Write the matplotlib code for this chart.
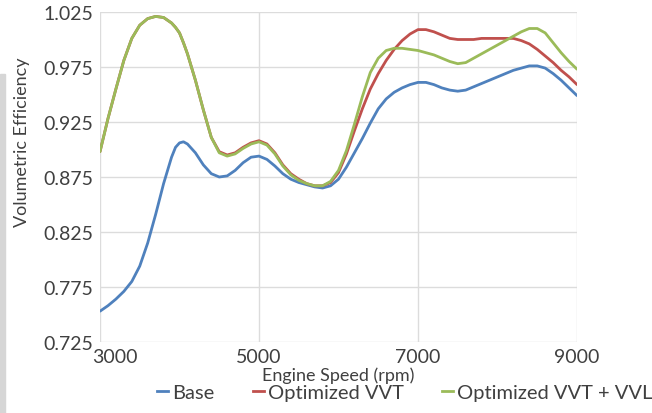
# plot.py
# Volumetric efficiency vs engine speed for three valve strategies.

import matplotlib.pyplot as plt
import matplotlib.transforms as mtransforms
from matplotlib.lines import Line2D
from matplotlib.patches import Rectangle

plt.rcParams["font.family"] = ["Lato", "DejaVu Sans"]

# engine speed (rpm)
rpm = [
    3000, 3100, 3200, 3300, 3400, 3500, 3600, 3700, 3800, 3900, 3950,
    4000, 4050, 4100, 4200, 4300, 4400, 4500, 4600, 4700, 4800, 4900,
    5000, 5100, 5200, 5300, 5400, 5500, 5600, 5700, 5800, 5900,
    6000, 6100, 6200, 6300, 6400, 6500, 6600, 6700, 6800, 6900,
    7000, 7100, 7200, 7300, 7400, 7500, 7600, 7700, 7800, 7900,
    8000, 8100, 8200, 8300, 8400, 8500, 8600, 8700, 8800, 8900,
    9000,
]

base = [
    0.753, 0.758, 0.764, 0.771, 0.780, 0.794, 0.815, 0.841, 0.869, 0.893, 0.902,
    0.906, 0.907, 0.905, 0.897, 0.886, 0.878, 0.875, 0.876, 0.881, 0.888, 0.893,
    0.894, 0.891, 0.885, 0.878, 0.873, 0.870, 0.868, 0.866, 0.865, 0.867,
    0.873, 0.884, 0.897, 0.910, 0.924, 0.937, 0.946, 0.952, 0.956, 0.959,
    0.961, 0.961, 0.959, 0.956, 0.954, 0.953, 0.954, 0.957, 0.960, 0.963,
    0.966, 0.969, 0.972, 0.974, 0.976, 0.976, 0.974, 0.969, 0.963, 0.956,
    0.949,
]

opt_vvt = [
    0.898, 0.928, 0.955, 0.981, 1.001, 1.013, 1.019, 1.021, 1.020, 1.015, 1.011,
    1.006, 0.997, 0.987, 0.963, 0.936, 0.911, 0.898, 0.895, 0.897, 0.902, 0.906,
    0.908, 0.905, 0.897, 0.886, 0.878, 0.873, 0.869, 0.867, 0.867, 0.870,
    0.879, 0.896, 0.917, 0.937, 0.955, 0.969, 0.981, 0.991, 0.999, 1.005,
    1.009, 1.009, 1.007, 1.004, 1.001, 1.000, 1.000, 1.000, 1.001, 1.001,
    1.001, 1.001, 1.001, 0.999, 0.996, 0.991, 0.985, 0.979, 0.972, 0.966,
    0.959,
]

opt_vvt_vvl = [
    0.898, 0.928, 0.955, 0.981, 1.001, 1.013, 1.019, 1.021, 1.020, 1.015, 1.011,
    1.006, 0.997, 0.987, 0.963, 0.936, 0.911, 0.897, 0.894, 0.896, 0.901, 0.905,
    0.907, 0.904, 0.896, 0.885, 0.877, 0.872, 0.869, 0.867, 0.867, 0.871,
    0.881, 0.899, 0.923, 0.948, 0.970, 0.983, 0.990, 0.992, 0.992, 0.991,
    0.990, 0.988, 0.986, 0.983, 0.980, 0.978, 0.979, 0.983, 0.987, 0.991,
    0.995, 0.999, 1.003, 1.007, 1.010, 1.010, 1.006, 0.997, 0.988, 0.980,
    0.973,
]

series_names = ["Base", "Optimized VVT", "Optimized VVT + VVL"]
series_colors = ["#4f81bd", "#c0504d", "#9bbb59"]

x_ticks = [3000, 5000, 7000, 9000]
y_ticks = [0.725, 0.775, 0.825, 0.875, 0.925, 0.975, 1.025]

fig = plt.figure(figsize=(6.52, 4.14), dpi=100)
ax = fig.add_axes([100 / 652, 1 - 343 / 414, 477 / 652, 330 / 414])

for values, name, color in zip(
    [base, opt_vvt, opt_vvt_vvl], series_names, series_colors
):
    ax.plot(rpm, values, color=color, linewidth=2.0, label=name,
            solid_capstyle="round", solid_joinstyle="round")

ax.set_xlim(3000, 9000)
ax.set_ylim(0.725, 1.025)
ax.set_xticks(x_ticks)
ax.set_yticks(y_ticks)
ax.set_yticklabels([f"{v:.3f}" for v in y_ticks])
ax.grid(True, color="#dcdcdc", linewidth=1.0)
ax.set_axisbelow(True)
for spine in ax.spines.values():
    spine.set_visible(False)
ax.tick_params(length=0, labelsize=14, labelcolor="#404040")
ax.tick_params(axis="y", pad=5)
ax.tick_params(axis="x", pad=4)

# nudge first x label right, as in the source chart
lab0 = ax.get_xticklabels()[0]
lab0.set_transform(lab0.get_transform()
                   + mtransforms.ScaledTranslation(15 / 100, 0, fig.dpi_scale_trans))

fig.text(338 / 652, 1 - 376 / 414, "Engine Speed (rpm)", ha="center",
         va="center", fontsize=13, color="#404040")
fig.text(22 / 652, 1 - 142 / 414, "Volumetric Efficiency", ha="center",
         va="center", rotation=90, fontsize=13, color="#404040")

handles = [Line2D([], [], color=c, linewidth=2.0) for c in series_colors]
fig.legend(handles, series_names, loc="center", ncol=3,
           bbox_to_anchor=(405 / 652, 1 - 393 / 414), frameon=False,
           fontsize=14.5, handlelength=0.55, handletextpad=0.2,
           columnspacing=1.9, labelcolor="#404040", borderpad=0)

# grey strip on the left edge of the scan
fig.patches.append(Rectangle((0, 0), 5 / 652, 1 - 75 / 414,
                             transform=fig.transFigure, color="#d6d6d6",
                             zorder=0))

fig.savefig("out.png", dpi=100)
